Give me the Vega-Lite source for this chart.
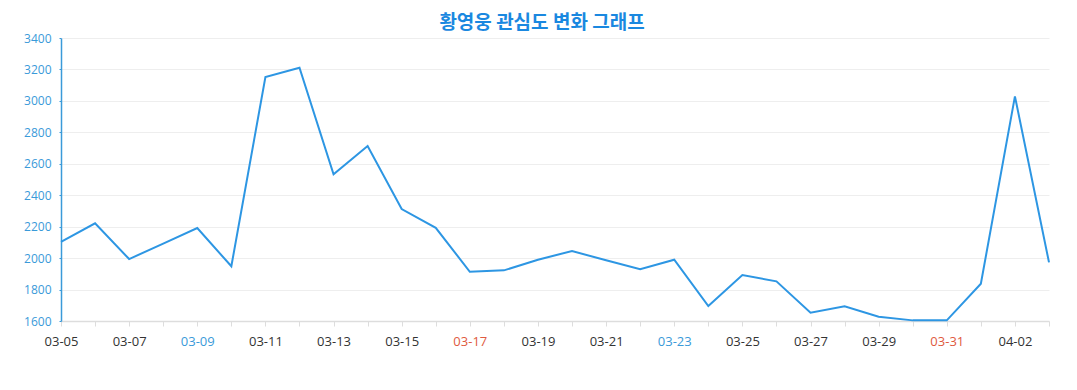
{
  "$schema": "https://vega.github.io/schema/vega-lite/v6.json",
  "autosize": "none",
  "width": 988,
  "height": 283,
  "padding": {"left": 61, "top": 38, "right": 28, "bottom": 69},
  "background": "white",
  "title": {
    "text": "황영웅 관심도 변화 그래프",
    "font": "Noto Sans CJK KR",
    "fontSize": 19,
    "fontWeight": "bold",
    "color": "#1a88e0",
    "anchor": "middle",
    "offset": 9,
    "dy": 10,
    "dx": -13
  },
  "config": {
    "view": {"stroke": null},
    "axis": {"labelFont": "Open Sans", "titleFont": "Open Sans"}
  },
  "data": {
    "values": [
      {"date": "2024-03-05T00:00:00", "value": 2104},
      {"date": "2024-03-06T00:00:00", "value": 2221},
      {"date": "2024-03-07T00:00:00", "value": 1994},
      {"date": "2024-03-08T00:00:00", "value": 2092},
      {"date": "2024-03-09T00:00:00", "value": 2191},
      {"date": "2024-03-10T00:00:00", "value": 1948},
      {"date": "2024-03-11T00:00:00", "value": 3152},
      {"date": "2024-03-12T00:00:00", "value": 3211},
      {"date": "2024-03-13T00:00:00", "value": 2533},
      {"date": "2024-03-14T00:00:00", "value": 2713},
      {"date": "2024-03-15T00:00:00", "value": 2312},
      {"date": "2024-03-16T00:00:00", "value": 2193},
      {"date": "2024-03-17T00:00:00", "value": 1913},
      {"date": "2024-03-18T00:00:00", "value": 1922},
      {"date": "2024-03-19T00:00:00", "value": 1990},
      {"date": "2024-03-20T00:00:00", "value": 2045},
      {"date": "2024-03-21T00:00:00", "value": 1986},
      {"date": "2024-03-22T00:00:00", "value": 1929},
      {"date": "2024-03-23T00:00:00", "value": 1990},
      {"date": "2024-03-24T00:00:00", "value": 1695},
      {"date": "2024-03-25T00:00:00", "value": 1892},
      {"date": "2024-03-26T00:00:00", "value": 1852},
      {"date": "2024-03-27T00:00:00", "value": 1653},
      {"date": "2024-03-28T00:00:00", "value": 1693},
      {"date": "2024-03-29T00:00:00", "value": 1627},
      {"date": "2024-03-30T00:00:00", "value": 1604},
      {"date": "2024-03-31T00:00:00", "value": 1604},
      {"date": "2024-04-01T00:00:00", "value": 1837},
      {"date": "2024-04-02T00:00:00", "value": 3029},
      {"date": "2024-04-03T00:00:00", "value": 1973}
    ]
  },
  "mark": {"type": "line", "color": "#2d96e3", "strokeWidth": 2},
  "encoding": {
    "x": {
      "field": "date",
      "type": "temporal",
      "scale": {"nice": false},
      "axis": {
        "title": null,
        "grid": false,
        "tickCount": {"interval": "day", "step": 1},
        "labelExpr": "round((datum.value - datetime(2024,2,5))/86400000) % 2 === 0 ? timeFormat(datum.value, '%m-%d') : ''",
        "labelOverlap": false,
        "labelFontSize": 13,
        "labelColor": {
          "condition": [
            {"test": "day(datum.value) === 6", "value": "#3a9ad9"},
            {"test": "day(datum.value) === 0", "value": "#e05a40"}
          ],
          "value": "#333333"
        },
        "labelPadding": 9,
        "domainColor": "#dddddd",
        "domainWidth": 1.5,
        "tickColor": "#dddddd",
        "tickSize": 5,
        "labelFlush": false
      }
    },
    "y": {
      "field": "value",
      "type": "quantitative",
      "scale": {"domain": [1600, 3400], "nice": false, "zero": false},
      "axis": {
        "title": null,
        "format": "d",
        "values": [1600, 1800, 2000, 2200, 2400, 2600, 2800, 3000, 3200, 3400],
        "labelColor": "#3a9ad9",
        "labelFontSize": 12,
        "labelPadding": 8,
        "domainColor": "#3a9ad9",
        "domainWidth": 1.5,
        "tickColor": "#3a9ad9",
        "tickSize": 2,
        "gridColor": "#eeeeee",
        "gridWidth": 1
      }
    }
  }
}
